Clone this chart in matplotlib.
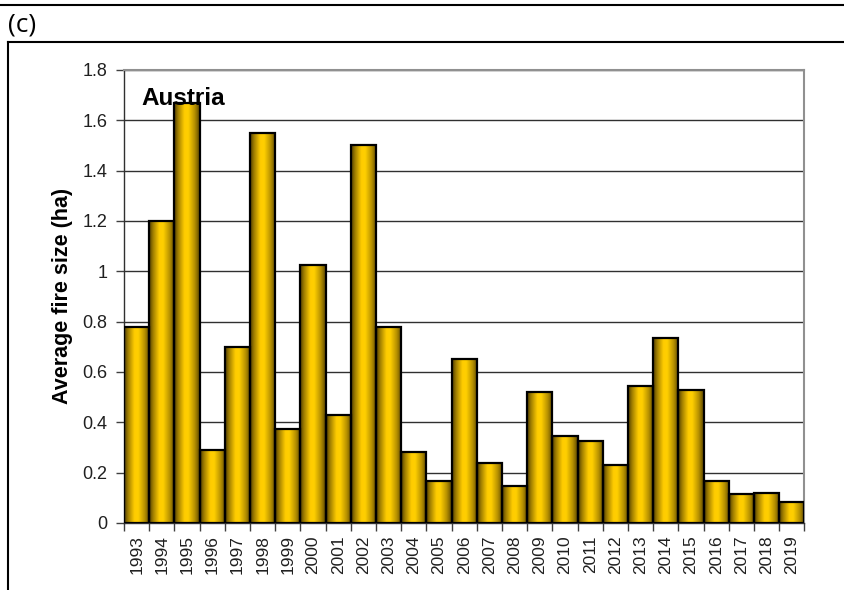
import numpy as np
import matplotlib
matplotlib.use('Agg')
import matplotlib.pyplot as plt
from matplotlib.colors import LinearSegmentedColormap
from matplotlib.lines import Line2D

# Durchschnittliche Brandfläche Österreich
years = [str(y) for y in range(1993, 2020)]
fire_size = [0.78, 1.20, 1.67, 0.29, 0.70, 1.55, 0.375, 1.025, 0.43, 1.50,
             0.78, 0.28, 0.165, 0.65, 0.24, 0.145, 0.52, 0.345, 0.325, 0.23,
             0.545, 0.735, 0.53, 0.165, 0.115, 0.12, 0.085]
y_ticks = [0, 0.2, 0.4, 0.6, 0.8, 1, 1.2, 1.4, 1.6, 1.8]
y_ticklabels = ['0', '0.2', '0.4', '0.6', '0.8', '1', '1.2', '1.4', '1.6', '1.8']

plt.rcParams['font.family'] = ['Liberation Sans', 'DejaVu Sans']

fig = plt.figure(figsize=(8.44, 5.9), dpi=100)
ax = fig.add_axes([0.147, 0.1136, 0.806, 0.768])

x = np.arange(len(years))
bars = ax.bar(x, fire_size, width=1.0, color='none', edgecolor='black',
              linewidth=1.6, zorder=3)

# Farbverlauf in den Balken
gold = LinearSegmentedColormap.from_list('gold', [
    (0.0, '#4f3c00'), (0.15, '#a07e00'), (0.4, '#ffcc00'),
    (0.55, '#ffcf00'), (0.8, '#b89200'), (1.0, '#5e4800')])
grad = np.linspace(0, 1, 64).reshape(1, -1)
for b in bars:
    x0, w, h = b.get_x(), b.get_width(), b.get_height()
    ax.imshow(grad, cmap=gold, extent=[x0, x0 + w, 0, h], aspect='auto',
              zorder=2, interpolation='bilinear')

ax.set_xlim(-0.5, len(years) - 0.5)
ax.set_ylim(0, 1.8)
ax.set_yticks(y_ticks)
ax.set_yticklabels(y_ticklabels, fontsize=13, color='#202020')
ax.set_xticks(x)
ax.set_xticklabels(years, rotation=90, fontsize=12.5, color='#202020')
ax.set_xticks(np.arange(-0.5, len(years)), minor=True)
ax.tick_params(axis='x', which='major', length=0, pad=9)
ax.tick_params(axis='x', which='minor', length=6, width=1, color='#404040')
ax.tick_params(axis='y', length=6, width=1, color='#404040', pad=6)

ax.grid(axis='y', color='#303030', linewidth=1.0, zorder=1)
ax.set_axisbelow(True)
for s in ['top', 'right']:
    ax.spines[s].set_color('#909090')
    ax.spines[s].set_linewidth(1.5)
for s in ['left', 'bottom']:
    ax.spines[s].set_color('#303030')
    ax.spines[s].set_linewidth(1.0)

ax.set_ylabel('Average fire size (ha)', fontsize=15.5, fontweight='bold', labelpad=7)
ax.text(0.025, 0.962, 'Austria', transform=ax.transAxes, fontsize=17.5,
        fontweight='bold', va='top', ha='left', zorder=5)

# Rahmen und Beschriftung (c)
fig.add_artist(Line2D([0, 1], [1 - 5 / 590, 1 - 5 / 590], color='black', lw=1.5))
fig.add_artist(Line2D([8 / 844, 1], [1 - 42 / 590, 1 - 42 / 590], color='black', lw=1.5))
fig.add_artist(Line2D([8 / 844, 8 / 844], [0, 1 - 42 / 590], color='black', lw=1.5))
fig.text(8 / 844, 1 - 25 / 590, '(c)', fontsize=19, family=['Open Sans', 'DejaVu Sans'],
         va='center', ha='left')

fig.savefig('out.png', dpi=100)
